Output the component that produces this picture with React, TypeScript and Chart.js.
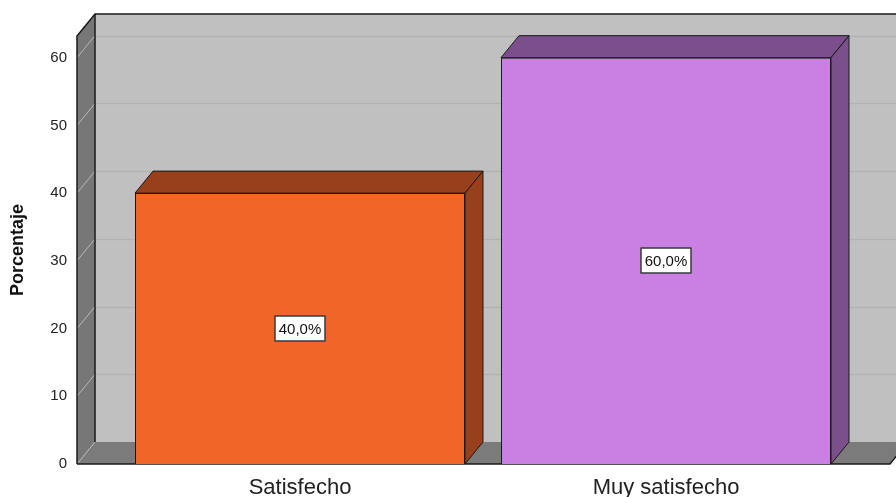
import React, { useEffect, useRef } from "react";
import { Chart, registerables } from "chart.js";

Chart.register(...registerables);

const categories = ["Satisfecho", "Muy satisfecho"];
const percentages = [40, 60];
const yTicks = [0, 10, 20, 30, 40, 50, 60];
const yMax = 63.2;
const frontColors = ["#F26529", "#CA80E3"];
const sideColors = ["#983F1B", "#7B4F8B"];

const DX = 18;
const DY = 22;
const FONT = "Arial, 'Liberation Sans', sans-serif";

const fmt = (v: number) => v.toFixed(1).replace(".", ",") + "%";

const depthPlugin = {
  id: "depth3d",
  beforeDatasetsDraw(chart: any) {
    const { ctx, chartArea: a, scales } = chart;
    const ys = scales.y;
    const L = a.left, R = a.right, T = a.top, B = a.bottom;
    ctx.save();
    // back wall
    ctx.fillStyle = "#C0C0C0";
    ctx.fillRect(L + DX, T - DY, R - L, B - T);
    // back gridlines
    ctx.strokeStyle = "#B2B2B2";
    ctx.lineWidth = 1.5;
    for (const v of yTicks) {
      if (v === 0) continue;
      const py = Math.round(ys.getPixelForValue(v) - DY) + 0.5;
      ctx.beginPath();
      ctx.moveTo(L + DX, py);
      ctx.lineTo(R + DX, py);
      ctx.stroke();
    }
    // left wall
    ctx.fillStyle = "#777777";
    ctx.beginPath();
    ctx.moveTo(L, T);
    ctx.lineTo(L + DX, T - DY);
    ctx.lineTo(L + DX, B - DY);
    ctx.lineTo(L, B);
    ctx.closePath();
    ctx.fill();
    // floor
    ctx.fillStyle = "#7B7B7B";
    ctx.beginPath();
    ctx.moveTo(L, B);
    ctx.lineTo(L + DX, B - DY);
    ctx.lineTo(R + DX, B - DY);
    ctx.lineTo(R, B);
    ctx.closePath();
    ctx.fill();
    // left wall diagonals
    ctx.strokeStyle = "#B8B8B8";
    ctx.lineWidth = 1;
    for (const v of yTicks) {
      const py = ys.getPixelForValue(v);
      ctx.beginPath();
      ctx.moveTo(L, py);
      ctx.lineTo(L + DX, py - DY);
      ctx.stroke();
    }
    // outlines
    ctx.strokeStyle = "#1A1A1A";
    ctx.lineWidth = 1.5;
    ctx.beginPath();
    ctx.moveTo(L, B);
    ctx.lineTo(L, T);
    ctx.lineTo(L + DX, T - DY);
    ctx.lineTo(R + DX + 4, T - DY);
    ctx.stroke();
    ctx.beginPath();
    ctx.moveTo(L + DX, T - DY);
    ctx.lineTo(L + DX, B - DY);
    ctx.stroke();
    ctx.beginPath();
    ctx.moveTo(L, B);
    ctx.lineTo(R, B);
    ctx.lineTo(R + DX, B - DY);
    ctx.stroke();
    ctx.restore();
  },
  afterDatasetsDraw(chart: any) {
    const { ctx, scales } = chart;
    const ys = scales.y;
    const meta = chart.getDatasetMeta(0);
    ctx.save();
    meta.data.forEach((bar: any, i: number) => {
      const x1 = bar.x - bar.width / 2;
      const x2 = bar.x + bar.width / 2;
      const top = bar.y;
      const base = bar.base;
      ctx.fillStyle = sideColors[i];
      ctx.strokeStyle = "#1A1A1A";
      ctx.lineWidth = 1;
      ctx.lineJoin = "round";
      // top face
      ctx.beginPath();
      ctx.moveTo(x1, top);
      ctx.lineTo(x1 + DX, top - DY);
      ctx.lineTo(x2 + DX, top - DY);
      ctx.lineTo(x2, top);
      ctx.closePath();
      ctx.fill();
      ctx.stroke();
      // side face
      ctx.beginPath();
      ctx.moveTo(x2, top);
      ctx.lineTo(x2 + DX, top - DY);
      ctx.lineTo(x2 + DX, base - DY);
      ctx.lineTo(x2, base);
      ctx.closePath();
      ctx.fill();
      ctx.stroke();
      // value label
      const v = percentages[i];
      const cy = ys.getPixelForValue(v / 2);
      const w = 50, h = 25;
      ctx.fillStyle = "#FFFFFF";
      ctx.fillRect(Math.round(bar.x - w / 2), Math.round(cy - h / 2), w, h);
      ctx.strokeStyle = "#3A3A3A";
      ctx.lineWidth = 1.5;
      ctx.strokeRect(Math.round(bar.x - w / 2), Math.round(cy - h / 2), w, h);
      ctx.fillStyle = "#111111";
      ctx.font = `15px ${FONT}`;
      ctx.textAlign = "center";
      ctx.textBaseline = "middle";
      ctx.fillText(fmt(v), bar.x, cy + 1);
    });
    ctx.restore();
  },
};

export default function App() {
  const ref = useRef<HTMLCanvasElement | null>(null);

  useEffect(() => {
    document.body.style.margin = "0";
    const canvas = ref.current;
    if (!canvas) return;
    const chart = new Chart(canvas, {
      type: "bar",
      data: {
        datasets: [
          {
            data: percentages.map((v, i) => ({ x: i, y: v })),
            backgroundColor: frontColors,
            borderColor: "#1A1A1A",
            borderWidth: 1,
            barPercentage: 0.9016,
            categoryPercentage: 1,
          },
        ],
      },
      options: {
        animation: false,
        responsive: false,
        events: [],
        layout: { padding: { top: 36, right: 6, left: 0, bottom: 0 } },
        plugins: { legend: { display: false }, tooltip: { enabled: false } },
        scales: {
          x: {
            type: "linear",
            min: -0.6093,
            max: 1.612,
            offset: false,
            grid: { display: false, drawTicks: false, offset: false },
            border: { display: false },
            afterBuildTicks: (s: any) => {
              s.ticks = categories.map((_, i) => ({ value: i }));
            },
            afterFit: (s: any) => {
              s.height = 33;
            },
            ticks: {
              autoSkip: false,
              maxRotation: 0,
              padding: 11,
              color: "#222222",
              font: { family: FONT, size: 22 },
              callback: (v: any) => categories[v] ?? "",
            },
          },
          y: {
            type: "linear",
            min: 0,
            max: yMax,
            grid: { display: false, drawTicks: false },
            border: { display: false },
            afterBuildTicks: (s: any) => {
              s.ticks = yTicks.map((v) => ({ value: v }));
            },
            afterFit: (s: any) => {
              s.width = 77;
            },
            ticks: {
              padding: 10,
              color: "#222222",
              font: { family: FONT, size: 15 },
            },
            title: {
              display: true,
              text: "Porcentaje",
              color: "#111111",
              font: { family: FONT, size: 18, weight: "bold" },
              padding: { top: 7, bottom: 0 },
            },
          },
        },
      },
      plugins: [depthPlugin],
    } as any);
    return () => chart.destroy();
  }, []);

  return (
    <div style={{ width: 896, height: 497, position: "relative" }}>
      <canvas ref={ref} width={896} height={497} style={{ display: "block" }} />
    </div>
  );
}
